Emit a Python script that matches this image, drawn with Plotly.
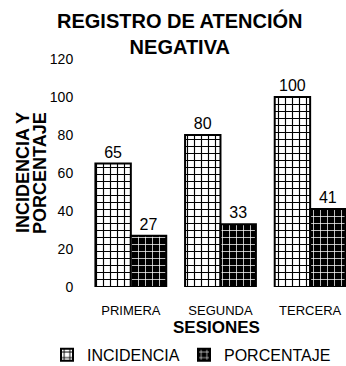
import plotly.graph_objects as go

categories = ["PRIMERA", "SEGUNDA", "TERCERA"]
incidencia = [65, 80, 100]
porcentaje = [27, 33, 41]
y_ticks = [0, 20, 40, 60, 80, 100, 120]

FONT = "Liberation Sans, Arial, sans-serif"

fig = go.Figure()
fig.add_trace(go.Bar(
    name="INCIDENCIA", x=categories, y=incidencia,
    text=[str(v) for v in incidencia], textposition="outside",
    textfont=dict(size=16, color="black", family=FONT),
    marker=dict(color="white", line=dict(color="black", width=2),
                pattern=dict(shape="+", bgcolor="white", fgcolor="black",
                             size=7, solidity=0.3, fillmode="replace")),
    cliponaxis=False, legendwidth=92,
))
fig.add_trace(go.Bar(
    name="PORCENTAJE", x=categories, y=porcentaje,
    text=[str(v) for v in porcentaje], textposition="outside",
    textfont=dict(size=16, color="black", family=FONT),
    marker=dict(color="black", line=dict(color="black", width=2),
                pattern=dict(shape="+", bgcolor="black", fgcolor="white",
                             size=7, solidity=0.2, fillmode="replace")),
    cliponaxis=False, legendwidth=110,
))

fig.update_layout(
    width=346, height=366,
    margin=dict(l=86, r=0, t=59, b=79, autoexpand=False),
    paper_bgcolor="white", plot_bgcolor="white",
    barmode="group", bargap=0.21, bargroupgap=0,
    font=dict(family=FONT, color="black"),
    xaxis=dict(range=[-0.5, 2.4], showgrid=False, showline=False,
               zeroline=False, ticks="outside", ticklen=11, tickcolor="white",
               tickfont=dict(size=13), automargin=False),
    yaxis=dict(range=[0, 120], tickvals=y_ticks, showgrid=False, showline=False,
               zeroline=False, ticks="outside", ticklen=9, tickcolor="white",
               tickfont=dict(size=14), automargin=False),
    legend=dict(orientation="h", xref="paper", yref="paper",
                x=-0.15, xanchor="left", y=-0.298, yanchor="middle",
                font=dict(size=16), itemwidth=30),
    annotations=[
        dict(text="<b>REGISTRO DE ATENCIÓN<br>NEGATIVA</b>", xref="paper", yref="paper",
             x=0.362, y=1.112, xanchor="center", yanchor="middle", showarrow=False,
             font=dict(size=20)),
        dict(text="<b>SESIONES</b>", xref="paper", yref="paper",
             x=0.5, y=-0.177, xanchor="center", yanchor="middle", showarrow=False,
             font=dict(size=17)),
        dict(text="<b>INCIDENCIA Y</b>", xref="paper", yref="paper", textangle=-90,
             x=-0.242, y=0.5, xanchor="center", yanchor="middle", showarrow=False,
             font=dict(size=18)),
        dict(text="<b>PORCENTAJE</b>", xref="paper", yref="paper", textangle=-90,
             x=-0.177, y=0.5, xanchor="center", yanchor="middle", showarrow=False,
             font=dict(size=18)),
    ],
)

fig.write_html("out.html", config={"displayModeBar": False},
               post_script="document.body.style.margin='0px';document.body.style.overflow='hidden';")
